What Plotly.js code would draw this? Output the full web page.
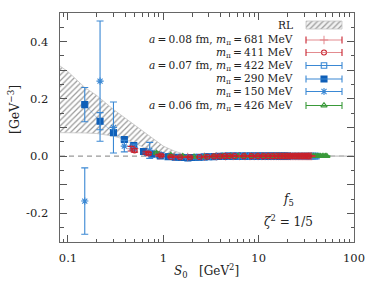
<!DOCTYPE html>
<html><head><meta charset="utf-8">
<script src="https://cdn.plot.ly/plotly-3.0.1.min.js"></script>
<style>html,body{margin:0;padding:0;background:#fff}#c{width:374px;height:282px}</style>
</head><body><div id="c"></div>
<script>
// ---- RL band ----
const S0_RL   = [0.08, 0.1, 0.15, 0.2, 0.3, 0.4, 0.5, 0.6, 0.7, 0.8, 1.0, 1.3, 1.6, 2.0, 3.0, 5.0, 10, 20, 50, 100];
const RL_upper= [0.318, 0.295, 0.24, 0.212, 0.163, 0.133, 0.108, 0.09, 0.074, 0.06, 0.035, 0.018, 0.008, 0.002, 0.0005, 0, 0, 0, 0, 0];
const RL_lower= [0.082, 0.082, 0.081, 0.079, 0.07, 0.058, 0.046, 0.033, 0.022, 0.013, 0.006, 0.002, 0.0005, 0, 0, 0, 0, 0, 0, 0];

// ---- a=0.08 fm, m_pi=681 MeV ----
const S0_681 = [0.46, 0.66, 0.9, 1.3, 1.8, 2.7, 3.6, 4.5, 5.4, 6.3,
  7.2, 8.1, 9.0, 9.9, 10.8, 11.7, 12.6, 13.5, 14.4, 15.3,
  16.2, 17.1, 18.0, 18.9, 19.8, 20.7, 21.6, 22.5, 23.4, 24.3,
  25.2, 26.1, 27.0, 27.9, 28.8, 29.7, 30.6, 31.5, 32.4, 33.3,
  34.2, 35.1, 36.0];
const f5_681 = [0.026, 0.012, 0.003, -0.002, -0.003, -0.002, -0.001, -0.001, 0, 0,
  0, 0, 0, 0, 0, 0, 0, 0, 0, 0,
  0, 0, 0, 0, 0, 0, 0, 0, 0, 0,
  0, 0, 0, 0, 0, 0, 0, 0, 0, 0,
  0, 0, 0];
const err_681 = [0.008, 0.005, 0.003, 0.002, 0.002, 0.001, 0.001, 0.001, 0.001, 0.001,
  0.001, 0.001, 0.001, 0.001, 0.001, 0.001, 0.001, 0.001, 0.001, 0.001,
  0.001, 0.001, 0.001, 0.001, 0.001, 0.001, 0.001, 0.001, 0.001, 0.001,
  0.001, 0.001, 0.001, 0.001, 0.001, 0.001, 0.001, 0.001, 0.001, 0.001,
  0.001, 0.001, 0.001];

// ---- m_pi=411 MeV ----
const S0_411 = [0.5, 0.7, 0.95, 1.2, 1.5, 1.9, 2.4, 2.9, 3.4, 3.9,
  4.4, 4.9, 5.6, 7.0, 8.4, 9.8, 11.2, 12.6, 14.0, 15.4,
  16.8, 18.2, 19.6, 21.0, 22.4, 23.8, 25.2, 26.6, 28.0, 29.4,
  30.8, 32.2, 33.6];
const f5_411 = [0.02, 0.009, 0.002, -0.003, -0.004, -0.004, -0.003, -0.002, -0.001, -0.001,
  0, 0, 0, 0, 0, 0, 0, 0, 0, 0,
  0, 0, 0, 0, 0, 0, 0, 0, 0, 0,
  0, 0, 0];
const err_411 = [0.006, 0.004, 0.003, 0.002, 0.002, 0.002, 0.001, 0.001, 0.001, 0.001,
  0.001, 0.001, 0.001, 0.001, 0.001, 0.001, 0.001, 0.001, 0.001, 0.001,
  0.001, 0.001, 0.001, 0.001, 0.001, 0.001, 0.001, 0.001, 0.001, 0.001,
  0.001, 0.001, 0.001];

// ---- a=0.07 fm, m_pi=422 MeV ----
const S0_422 = [0.48, 0.68, 0.9, 1.15, 1.45, 1.8, 2.2, 2.7, 3.2, 3.8,
  4.4, 5.0, 5.7, 6.4, 7.2, 8.0, 8.8, 9.7, 10.6, 11.5,
  12.5, 13.5, 14.5, 15.6, 16.7, 17.8, 19.0, 20.2, 21.4, 22.7,
  24.0, 25.3, 26.7, 28.1, 29.5, 31.0, 32.5, 34.0, 35.5, 37.1,
  38.7, 40.3];
const f5_422 = [0.03, 0.012, 0.004, -0.002, -0.004, -0.005, -0.004, -0.003, -0.002, -0.001,
  0, 0, 0, 0, 0, 0, 0, 0, 0, 0,
  0, 0, 0, 0, 0, 0, 0, 0, 0, 0,
  0, 0, 0, 0, 0, 0, 0, 0, 0, 0,
  0, 0];
const err_422 = [0.008, 0.005, 0.003, 0.002, 0.002, 0.002, 0.002, 0.001, 0.001, 0.001,
  0.001, 0.001, 0.001, 0.001, 0.001, 0.001, 0.001, 0.001, 0.001, 0.001,
  0.001, 0.001, 0.001, 0.001, 0.001, 0.001, 0.001, 0.001, 0.001, 0.001,
  0.001, 0.001, 0.001, 0.001, 0.001, 0.001, 0.001, 0.001, 0.001, 0.001,
  0.001, 0.001];

// ---- m_pi=290 MeV ----
const S0_290 = [0.15, 0.217, 0.30, 0.39, 0.49, 0.62, 0.76, 0.93, 1.12, 1.33,
  1.56, 1.81, 2.08, 2.37, 2.68, 3.0, 3.4, 3.8, 4.3, 4.8,
  5.4, 6.0, 6.7, 7.4, 8.2, 9.0, 9.9, 10.8, 11.8, 12.8,
  13.9, 15.0, 16.2, 17.4, 18.7, 20.0];
const f5_290 = [0.18, 0.122, 0.082, 0.058, 0.037, 0.016, 0.007, 0.001, -0.002, -0.004,
  -0.005, -0.006, -0.005, -0.004, -0.003, -0.002, -0.002, -0.001, -0.001, 0,
  0, 0, 0, 0, 0, 0, 0, 0, 0, 0,
  0, 0, 0, 0, 0, 0];
const err_290 = [0.06, 0.03, 0.008, 0.006, 0.005, 0.004, 0.003, 0.002, 0.002, 0.002,
  0.001, 0.001, 0.001, 0.001, 0.001, 0.001, 0.001, 0.001, 0.001, 0.001,
  0.001, 0.001, 0.001, 0.001, 0.001, 0.001, 0.001, 0.001, 0.001, 0.001,
  0.001, 0.001, 0.001, 0.001, 0.001, 0.001];

// ---- m_pi=150 MeV ----
const S0_150 = [0.15, 0.217, 0.30, 0.39, 0.49, 0.72, 0.95, 1.2, 1.5, 1.8,
  2.2, 2.6, 3.1, 3.6, 4.2, 4.8, 5.5, 6.2, 7.0, 7.8,
  8.7, 9.6, 10.6, 11.6, 12.7, 13.8, 15.0];
const f5_150 = [-0.157, 0.262, 0.10, 0.035, 0.03, 0.02, 0.004, -0.001, -0.003, -0.004,
  -0.004, -0.003, -0.002, -0.001, -0.001, 0, 0, 0, 0, 0,
  0, 0, 0, 0, 0, 0, 0];
const err_150 = [0.116, 0.21, 0.089, 0.02, 0.012, 0.028, 0.008, 0.005, 0.004, 0.003,
  0.003, 0.002, 0.002, 0.001, 0.001, 0.001, 0.001, 0.001, 0.001, 0.001,
  0.001, 0.001, 0.001, 0.001, 0.001, 0.001, 0.001];

// ---- a=0.06 fm, m_pi=426 MeV ----
const S0_426 = [0.85, 1.2, 1.6, 2.1, 2.7, 3.4, 4.2, 5.1, 6.1, 7.2,
  8.4, 9.7, 11.1, 12.6, 14.2, 15.9, 17.7, 19.6, 21.6, 23.7,
  25.9, 28.2, 30.6, 33.1, 35.7, 37.5, 39.3, 41.1, 42.9, 44.7,
  46.5, 48.3, 50.1, 51.9];
const f5_426 = [0.011, 0.003, 0, -0.002, -0.002, -0.001, 0, 0, 0, 0,
  0, 0, 0, 0, 0, 0, 0, 0, 0, 0,
  0, 0, 0, 0, 0, 0, 0, 0, 0, 0,
  0, 0, 0, 0];
const err_426 = [0.004, 0.002, 0.002, 0.001, 0.001, 0.001, 0.001, 0.001, 0.001, 0.001,
  0.001, 0.001, 0.001, 0.001, 0.001, 0.001, 0.001, 0.001, 0.001, 0.001,
  0.001, 0.001, 0.001, 0.001, 0.001, 0.001, 0.001, 0.001, 0.001, 0.001,
  0.001, 0.001, 0.001, 0.001];

const xTickVals = [0.1, 1, 10, 100];
const xTickText = ['0.1', '1', '10', '100'];
const xMinor = [0.09, 0.2, 0.3, 0.4, 0.5, 0.6, 0.7, 0.8, 0.9, 2, 3, 4, 5, 6, 7, 8, 9, 20, 30, 40, 50, 60, 70, 80, 90];
const yTickVals = [-0.2, -0.1, 0, 0.1, 0.2, 0.3, 0.4];
const yTickText = ['-0.2', '', '0.0', '', '0.2', '', '0.4'];
const yMinor = [-0.25, -0.15, -0.05, 0.05, 0.15, 0.25, 0.35, 0.45];

const legendLabels = [
  '<i>a</i>\u2009=\u20090.08 fm, <i>m</i><sub>π</sub>\u2009=\u2009681 MeV',
  '<i>m</i><sub>π</sub>\u2009=\u2009411 MeV',
  '<i>a</i>\u2009=\u20090.07 fm, <i>m</i><sub>π</sub>\u2009=\u2009422 MeV',
  '<i>m</i><sub>π</sub>\u2009=\u2009290 MeV',
  '<i>m</i><sub>π</sub>\u2009=\u2009150 MeV',
  '<i>a</i>\u2009=\u20090.06 fm, <i>m</i><sub>π</sub>\u2009=\u2009426 MeV'
];

// styles
const FONT = 'DejaVu Serif';
const RED = '#c8202c', RED_L = 'rgba(210,60,70,0.55)';
const BLUE = '#3a88d4', BLUE_D = '#0f5fb8', GREEN = '#3a9a3a';
const styles = [
  {x:S0_681, y:f5_681, e:err_681, sym:'cross-thin-open', col:RED_L, lc:'rgba(220,110,115,0.8)', cap:RED, size:6, ln:false},
  {x:S0_411, y:f5_411, e:err_411, sym:'circle-open', col:RED, lc:'rgba(220,110,115,0.8)', cap:RED, size:5, ln:false},
  {x:S0_422, y:f5_422, e:err_422, sym:'square-open', col:BLUE, lc:BLUE, cap:BLUE, size:5.5, ln:false},
  {x:S0_290, y:f5_290, e:err_290, sym:'square', col:BLUE_D, lc:BLUE, cap:BLUE, size:6, ln:true},
  {x:S0_150, y:f5_150, e:err_150, sym:'asterisk-open', col:BLUE, lc:BLUE, cap:BLUE, size:6, ln:false},
  {x:S0_426, y:f5_426, e:err_426, sym:'triangle-up-open', col:GREEN, lc:GREEN, cap:GREEN, size:5.5, ln:false}
];

const traces = [];
traces.push({x:S0_RL, y:RL_lower, mode:'lines', line:{color:'#c4c4c4', width:0.8}, hoverinfo:'skip', showlegend:false});
traces.push({x:S0_RL, y:RL_upper, mode:'lines', fill:'tonexty', fillcolor:'rgba(255,255,255,0)',
  fillpattern:{shape:'/', fgcolor:'#9a9a9a', bgcolor:'rgba(255,255,255,0)', size:4, solidity:0.3},
  line:{color:'#c4c4c4', width:0.8}, hoverinfo:'skip', showlegend:false});

function seriesTrace(s){
  return {x:s.x, y:s.y, mode: s.ln ? 'lines+markers' : 'markers', showlegend:false,
    line:{color:'rgba(58,136,212,0.5)', width:0.7},
    marker:{symbol:s.sym, size:s.size, color:s.col, line:{color:s.col, width:1.1}},
    error_y:{type:'data', array:s.e, visible:true, color:s.cap, thickness:1.1, width:3.5}};
}
// draw order: blue, green, red
[2,3,4,5,0,1].forEach(i => traces.push(seriesTrace(styles[i])));

// legend (pixel coords via overlay axes)
const rowY = [40, 52.5, 65.5, 79, 91.5, 105.5];
const rlY = 25;
const LX0 = 306, LX1 = 342, LXM = 324, TXT = 295;
const shapes = [
  {type:'line', xref:'paper', yref:'y', x0:0, x1:1, y0:0, y1:0, line:{color:'#999', width:1.2, dash:'5px,4px'}, layer:'below'}
];
const annotations = [];
traces.push({x:[LX0,LX1,LX1,LX0,LX0], y:[rlY-4,rlY-4,rlY+4,rlY+4,rlY-4], xaxis:'x2', yaxis:'y2', mode:'lines', fill:'toself',
  fillcolor:'rgba(255,255,255,0)', fillpattern:{shape:'/', fgcolor:'#9a9a9a', bgcolor:'#f2f2f2', size:4, solidity:0.3},
  line:{color:'#c4c4c4', width:0.8}, hoverinfo:'skip', showlegend:false});
const TF = {family:FONT, size:10.6, color:'#222'};
annotations.push({xref:'x2', yref:'y2', x:TXT, y:rlY, xanchor:'right', yanchor:'middle', showarrow:false, text:'RL', font:TF});
styles.forEach((s, i) => {
  const y = rowY[i];
  shapes.push({type:'line', xref:'x2', yref:'y2', x0:LX0, x1:LX1, y0:y, y1:y, line:{color:s.lc, width:1.2}});
  shapes.push({type:'line', xref:'x2', yref:'y2', x0:LX0, x1:LX0, y0:y-3.5, y1:y+3.5, line:{color:s.cap, width:1.1}});
  shapes.push({type:'line', xref:'x2', yref:'y2', x0:LX1, x1:LX1, y0:y-3.5, y1:y+3.5, line:{color:s.cap, width:1.1}});
  traces.push({x:[LXM], y:[y], xaxis:'x2', yaxis:'y2', mode:'markers', showlegend:false, hoverinfo:'skip',
    marker:{symbol:s.sym, size:s.size, color:s.col, line:{color:s.col, width:1.1}}});
  annotations.push({xref:'x2', yref:'y2', x:TXT, y:y, xanchor:'right', yanchor:'middle', showarrow:false,
    text:legendLabels[i], font:TF});
});

const W = 374, H = 282, L = 60, R = 20, T = 13, B = 40;
const px = v => (v - L) / (W - L - R);
const py = v => (H - B - v) / (H - T - B);
const BF = {family:FONT, size:12, color:'#222'};
annotations.push({xref:'paper', yref:'paper', x:px(288), y:py(200), xanchor:'center', yanchor:'middle', showarrow:false,
  text:'<i>f</i><sub>5</sub>', font:BF});
annotations.push({xref:'paper', yref:'paper', x:px(288), y:py(221), xanchor:'center', yanchor:'middle', showarrow:false,
  text:'<i>ζ</i><sup>2</sup> = 1/5', font:BF});
annotations.push({xref:'paper', yref:'paper', x:px(206), y:py(271), xanchor:'center', yanchor:'middle', showarrow:false,
  text:'<i>S</i><sub>0</sub>\u00a0\u00a0\u00a0[GeV<sup>2</sup>]', font:BF});
annotations.push({xref:'paper', yref:'paper', x:px(14), y:py(110), xanchor:'center', yanchor:'middle', showarrow:false, textangle:-90,
  text:'[GeV<sup>−3</sup>]', font:{family:FONT, size:12.5, color:'#222'}});

const axCommon = {ticks:'inside', mirror:'allticks', showline:true, linecolor:'#666', linewidth:1.4, tickcolor:'#555',
  showgrid:false, zeroline:false, tickfont:{family:FONT, size:11.5, color:'#222'}};
const layout = {
  width:W, height:H, margin:{l:L, r:R, t:T, b:B}, paper_bgcolor:'#fff', plot_bgcolor:'#fff', showlegend:false,
  font:{family:FONT, size:12, color:'#222'},
  xaxis:Object.assign({}, axCommon, {type:'log', range:[Math.log10(0.0825), 2], tickvals:xTickVals, ticktext:xTickText,
    ticklen:7, ticklabelstandoff:5,
    minor:{tickvals:xMinor, ticks:'inside', ticklen:3.5, tickcolor:'#555', showgrid:false}}),
  yaxis:Object.assign({}, axCommon, {range:[-0.3, 0.5], tickvals:yTickVals, ticktext:yTickText, ticklen:7, ticklabelstandoff:8,
    minor:{tickvals:yMinor, ticks:'inside', ticklen:3.5, tickcolor:'#555', showgrid:false}}),
  xaxis2:{overlaying:'x', range:[L, W - R], visible:false, fixedrange:true},
  yaxis2:{overlaying:'y', range:[H - B, T], visible:false, fixedrange:true},
  shapes:shapes, annotations:annotations
};
Plotly.newPlot('c', traces, layout, {staticPlot:true, displayModeBar:false});
</script></body></html>
